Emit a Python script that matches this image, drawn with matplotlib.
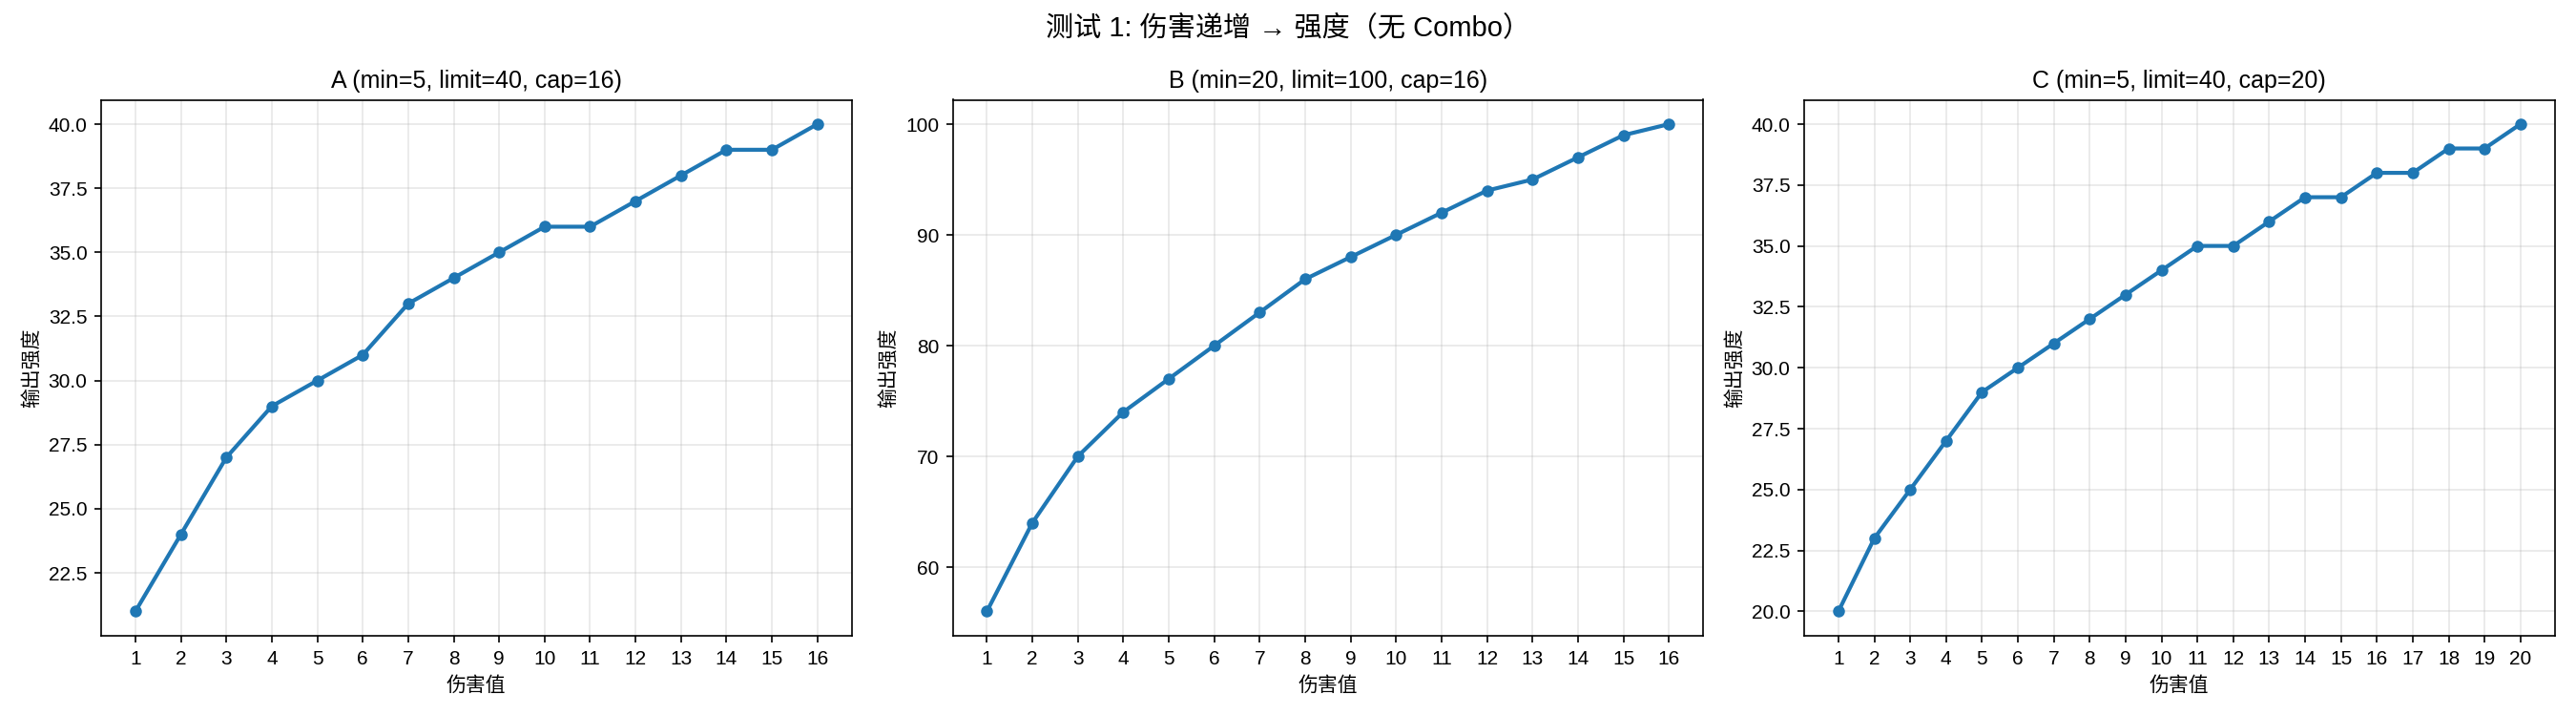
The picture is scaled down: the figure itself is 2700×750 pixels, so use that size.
import numpy as np
import matplotlib
matplotlib.use("Agg")
import matplotlib.pyplot as plt

plt.rcParams['font.family'] = ['Liberation Sans', 'Noto Sans CJK SC', 'DejaVu Sans']

# data
a_x = list(range(1, 17))
a_y = [21, 24, 27, 29, 30, 31, 33, 34, 35, 36, 36, 37, 38, 39, 39, 40]
b_x = list(range(1, 17))
b_y = [56, 64, 70, 74, 77, 80, 83, 86, 88, 90, 92, 94, 95, 97, 99, 100]
c_x = list(range(1, 21))
c_y = [20, 23, 25, 27, 29, 30, 31, 32, 33, 34, 35, 35, 36, 37, 37, 38, 38, 39, 39, 40]
titles = ["A (min=5, limit=40, cap=16)", "B (min=20, limit=100, cap=16)", "C (min=5, limit=40, cap=20)"]

fig, axes = plt.subplots(1, 3, figsize=(18, 5), dpi=150)

for ax, x, y, t in zip(axes, [a_x, b_x, c_x], [a_y, b_y, c_y], titles):
    ax.plot(x, y, marker='o', color='#1f77b4', lw=2, ms=5)
    ax.set_title(t, fontsize=12)
    ax.set_xlabel("伤害值")
    ax.set_ylabel("输出强度")
    ax.set_xticks(x)
    ax.grid(True, alpha=0.3)

fig.suptitle("测试 1: 伤害递增 → 强度（无 Combo）", fontsize=14)
fig.tight_layout()
fig.savefig("out.png")
